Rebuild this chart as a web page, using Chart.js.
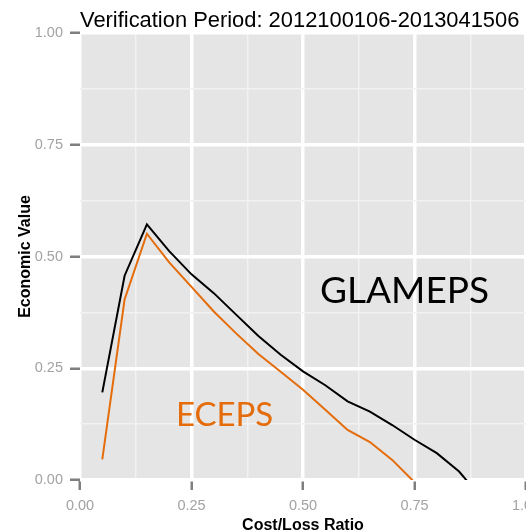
<!DOCTYPE html>
<html>
<head>
<meta charset="utf-8">
<script src="https://cdn.jsdelivr.net/npm/chart.js@4"></script>
<style>
  html, body { margin: 0; padding: 0; background: #fff; }
  #wrap { width: 526px; height: 532px; position: relative; }
</style>
</head>
<body>
<div id="wrap"><canvas id="chart" width="526" height="532"></canvas></div>
<script>
// Cost/loss ratios where economic value was evaluated
const costLoss = [0.05, 0.10, 0.15, 0.20, 0.25, 0.30, 0.35, 0.40, 0.45, 0.50,
                  0.55, 0.60, 0.65, 0.70, 0.75, 0.80, 0.85, 0.90];
// Economic value per system
const glamepsValue = [0.196, 0.457, 0.572, 0.512, 0.460, 0.418, 0.370, 0.322, 0.280, 0.243,
                      0.212, 0.176, 0.153, 0.123, 0.090, 0.060, 0.019, -0.040];
const ecepsValue = [0.046, 0.404, 0.551, 0.487, 0.432, 0.377, 0.328, 0.282, 0.242, 0.202,
                    0.157, 0.112, 0.085, 0.045, -0.005];
const majorTicks = [0, 0.25, 0.5, 0.75, 1];
const titleText = 'Verification Period: 2012100106-2013041506';

const GREY_BG = '#E5E5E5';
const ORANGE = '#E46C0A';

const isMajor = v => majorTicks.some(m => Math.abs(m - v) < 1e-9);
const fmt = v => v.toFixed(2);

function pts(xs, ys) { return ys.map((y, i) => ({x: xs[i], y})); }

// panel background, title and series annotations
const decorations = {
  id: 'decorations',
  beforeDraw(chart) {
    const {ctx, chartArea: a} = chart;
    ctx.save();
    ctx.fillStyle = GREY_BG;
    ctx.fillRect(a.left, a.top, a.right - a.left, a.bottom - a.top);
    ctx.restore();
  },
  afterDraw(chart) {
    const {ctx, chartArea: a, scales: {x, y}} = chart;
    ctx.save();
    ctx.fillStyle = '#000';
    ctx.textBaseline = 'alphabetic';
    ctx.textAlign = 'left';
    ctx.font = '21.9px "Liberation Sans", Arial, sans-serif';
    ctx.fillText(titleText, a.left, 26.5);

    ctx.font = '37px Lato, "Liberation Sans", sans-serif';
    ctx.fillText('GLAMEPS', x.getPixelForValue(0.538), y.getPixelForValue(0.3966));
    ctx.fillStyle = ORANGE;
    ctx.font = '33px Lato, "Liberation Sans", sans-serif';
    ctx.fillText('ECEPS', x.getPixelForValue(0.2150), y.getPixelForValue(0.1208));
    ctx.restore();
  }
};

const gridOpts = {
  drawOnChartArea: true,
  color: ctx => isMajor(ctx.tick.value) ? '#FFFFFF' : '#F2F2F2',
  lineWidth: ctx => isMajor(ctx.tick.value) ? 3.5 : 1.5,
  tickColor: ctx => isMajor(ctx.tick.value) ? '#7F7F7F' : 'rgba(0,0,0,0)',
  tickWidth: 2.5,
  tickLength: 10,
  drawTicks: true
};

new Chart(document.getElementById('chart'), {
  type: 'line',
  data: {
    datasets: [
      {
        label: 'GLAMEPS',
        data: pts(costLoss, glamepsValue),
        borderColor: '#000000',
        borderWidth: 2,
        pointRadius: 0,
        tension: 0,
        fill: false
      },
      {
        label: 'ECEPS',
        data: pts(costLoss, ecepsValue),
        borderColor: ORANGE,
        borderWidth: 2,
        pointRadius: 0,
        tension: 0,
        fill: false
      }
    ]
  },
  options: {
    responsive: false,
    animation: false,
    devicePixelRatio: 1,
    layout: { padding: { top: 33, left: 0, right: 0, bottom: 0 } },
    plugins: {
      legend: { display: false },
      tooltip: { enabled: false },
      title: { display: false }
    },
    scales: {
      x: {
        type: 'linear',
        min: 0, max: 1,
        border: { display: false },
        grid: gridOpts,
        ticks: {
          stepSize: 0.125,
          autoSkip: false,
          maxRotation: 0,
          padding: 7,
          color: '#A3A3A3',
          font: { family: '"Liberation Sans", Arial, sans-serif', size: 14.5 },
          callback: v => isMajor(v) ? fmt(v) : ''
        },
        title: {
          display: true,
          text: 'Cost/Loss Ratio',
          color: '#000',
          padding: { top: 0, bottom: -3 },
          font: { family: '"Liberation Sans", Arial, sans-serif', size: 16, weight: 'bold' }
        },
        afterFit(s) { s.height = 52; s.paddingLeft = 0; s.paddingRight = 0; }
      },
      y: {
        type: 'linear',
        min: 0, max: 1,
        border: { display: false },
        grid: gridOpts,
        ticks: {
          stepSize: 0.125,
          autoSkip: false,
          padding: 7,
          color: '#A3A3A3',
          font: { family: '"Liberation Sans", Arial, sans-serif', size: 14.5 },
          callback: v => isMajor(v) ? fmt(v) : ''
        },
        title: {
          display: true,
          text: 'Economic Value',
          color: '#000',
          padding: { top: 16, bottom: 0 },
          font: { family: '"Liberation Sans", Arial, sans-serif', size: 16, weight: 'bold' }
        },
        afterFit(s) { s.width = 80; s.paddingTop = 0; s.paddingBottom = 0; }
      }
    }
  },
  plugins: [decorations]
});
</script>
</body>
</html>
